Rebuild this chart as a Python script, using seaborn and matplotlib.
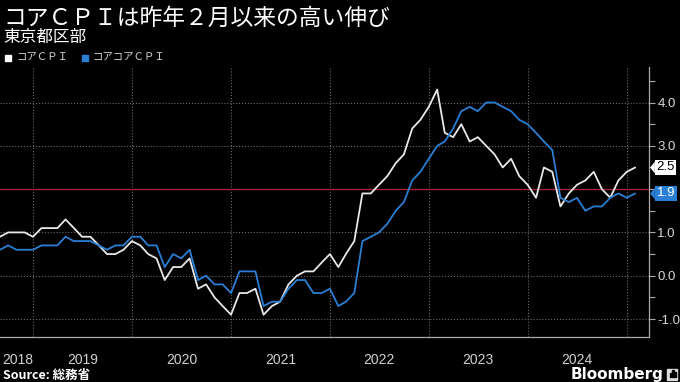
import matplotlib
matplotlib.use("Agg")
import matplotlib.pyplot as plt
import matplotlib.dates as mdates
import matplotlib.transforms as mtransforms
from matplotlib.patches import Rectangle
from matplotlib.ticker import MultipleLocator
import pandas as pd
import seaborn as sns

# Tokyo CPI, y/y %, monthly from Aug 2018 to Jan 2025
first_month = "2018-08-31"
series_names = ["コアＣＰＩ", "コアコアＣＰＩ"]
core_cpi = [0.9, 1.0, 1.0, 1.0, 0.9, 1.1, 1.1, 1.1, 1.3, 1.1, 0.9, 0.9,
            0.7, 0.5, 0.5, 0.6, 0.8, 0.7, 0.5, 0.4, -0.1, 0.2, 0.2, 0.4,
            -0.3, -0.2, -0.5, -0.7, -0.9, -0.4, -0.4, -0.3, -0.9, -0.7, -0.6, -0.2,
            0.0, 0.1, 0.1, 0.3, 0.5, 0.2, 0.5, 0.8, 1.9, 1.9, 2.1, 2.3,
            2.6, 2.8, 3.4, 3.6, 3.9, 4.3, 3.3, 3.2, 3.5, 3.1, 3.2, 3.0,
            2.8, 2.5, 2.7, 2.3, 2.1, 1.8, 2.5, 2.4, 1.6, 1.9, 2.1, 2.2,
            2.4, 2.0, 1.8, 2.2, 2.4, 2.5]
core_core_cpi = [0.6, 0.7, 0.6, 0.6, 0.6, 0.7, 0.7, 0.7, 0.9, 0.8, 0.8, 0.8,
                 0.7, 0.6, 0.7, 0.7, 0.9, 0.9, 0.7, 0.7, 0.2, 0.5, 0.4, 0.6,
                 -0.1, 0.0, -0.2, -0.2, -0.4, 0.1, 0.1, 0.1, -0.7, -0.6, -0.6, -0.3,
                 -0.1, -0.1, -0.4, -0.4, -0.3, -0.7, -0.6, -0.4, 0.8, 0.9, 1.0, 1.2,
                 1.5, 1.7, 2.2, 2.4, 2.7, 3.0, 3.1, 3.4, 3.8, 3.9, 3.8, 4.0,
                 4.0, 3.9, 3.8, 3.6, 3.5, 3.3, 3.1, 2.9, 1.8, 1.7, 1.8, 1.5,
                 1.6, 1.6, 1.8, 1.9, 1.8, 1.9]
target_rate = 2.0
years = [2018, 2019, 2020, 2021, 2022, 2023, 2024]
y_ticks = [-1.0, 0.0, 1.0, 2.0, 3.0, 4.0]

WHITE = "#e8e8e8"
BLUE = "#2a7fd4"
NUM_FONT = ["Liberation Sans", "DejaVu Sans"]

dates = pd.date_range(first_month, periods=len(core_cpi), freq="ME")
df = pd.concat([
    pd.DataFrame({"date": dates, "value": core_cpi, "series": series_names[0]}),
    pd.DataFrame({"date": dates, "value": core_core_cpi, "series": series_names[1]}),
])

sns.set_style("dark", {"axes.facecolor": "black", "figure.facecolor": "black"})
plt.rcParams["font.family"] = ["Noto Sans CJK JP", "DejaVu Sans"]

fig = plt.figure(figsize=(6.8, 3.82), dpi=100, facecolor="black")
ax = fig.add_axes([0, 45 / 382, 649 / 680, 270 / 382])
ax.set_facecolor("black")

sns.lineplot(data=df, x="date", y="value", hue="series", hue_order=series_names,
             palette=[WHITE, BLUE], linewidth=1.3, legend=False, ax=ax, zorder=4)

# boj target line
ax.axhline(target_rate, color="#a3223a", linewidth=1.0, zorder=3)

ax.set_xlim(pd.Timestamp("2018-08-31"), pd.Timestamp("2025-03-23"))
ax.set_ylim(-1.415, 4.82)
ax.set_xlabel("")
ax.set_ylabel("")

# x axis: year separators + quarter ticks
ax.xaxis.set_major_locator(mdates.YearLocator())
ax.xaxis.set_minor_locator(mdates.MonthLocator(bymonth=[4, 7, 10]))
ax.xaxis.set_major_formatter(plt.NullFormatter())
ax.tick_params(axis="x", which="major", direction="out", length=20, width=0.8, color="#8a8a8a")
ax.tick_params(axis="x", which="minor", direction="in", length=3, width=0.8, color="#8a8a8a")

# y axis on the right (2.0 sits behind the value tags, so no label there)
ax.yaxis.tick_right()
ax.set_yticks(y_ticks)
ax.set_yticklabels(["" if v == target_rate else f"{v:.1f}" for v in y_ticks],
                   family=NUM_FONT)
ax.yaxis.set_minor_locator(MultipleLocator(0.5))
ax.tick_params(axis="y", which="both", direction="out", length=4, width=0.8,
               color="#aaaaaa", labelcolor="#d8d8d8", labelsize=9.5, pad=2)

ax.grid(True, which="major", color="#6a6a6a", linestyle=":", linewidth=0.8)
for side in ["left", "top"]:
    ax.spines[side].set_visible(False)
for side in ["right", "bottom"]:
    ax.spines[side].set_visible(True)
    ax.spines[side].set_color("#aaaaaa")
    ax.spines[side].set_linewidth(0.9)

# year labels under the axis
trans = mtransforms.blended_transform_factory(ax.transData, ax.transAxes)
for yr in years:
    if yr == years[0]:
        # partial year at the left edge, keep it inside the figure
        ax.text(0.003, -0.085, str(yr), transform=ax.transAxes, ha="left", va="center",
                color="#d0d0d0", fontsize=10, family=NUM_FONT)
        continue
    ax.text(pd.Timestamp(f"{yr}-07-01"), -0.085, str(yr), transform=trans,
            ha="center", va="center", color="#d0d0d0", fontsize=10, family=NUM_FONT)

# last value tags
tag_trans = mtransforms.blended_transform_factory(ax.transAxes, ax.transData)
notch = [(-0.4, 0), (0.4, 1), (0.4, -1)]
for vals, fc, tc in [(core_cpi, "white", "black"), (core_core_cpi, BLUE, "white")]:
    last = vals[-1]
    ax.plot([1.0048], [last], marker=notch, ms=8.5, color=fc, mew=0,
            transform=tag_trans, clip_on=False, zorder=6)
    ax.text(1.0115, last, f"{last:.1f}", transform=tag_trans, ha="left", va="center",
            color=tc, fontsize=9.5, family=NUM_FONT, zorder=7,
            bbox=dict(boxstyle="square,pad=0.12", fc=fc, ec="none"))

# titles and legend
fig.text(3 / 680, 1 - 18 / 382, "コアＣＰＩは昨年２月以来の高い伸び", color="white",
         fontsize=16.4, va="center", ha="left")
fig.text(3 / 680, 1 - 37 / 382, "東京都区部", color="white", fontsize=12,
         va="center", ha="left")
fig.add_artist(Rectangle((5 / 680, 1 - 61 / 382), 6 / 680, 6 / 382,
                         transform=fig.transFigure, color="white"))
fig.text(16 / 680, 1 - 57.5 / 382, series_names[0], color="#d8d8d8", fontsize=7.5,
         va="center", ha="left")
fig.add_artist(Rectangle((82 / 680, 1 - 61 / 382), 6 / 680, 6 / 382,
                         transform=fig.transFigure, color=BLUE))
fig.text(92 / 680, 1 - 57.5 / 382, series_names[1], color="#d8d8d8", fontsize=7.5,
         va="center", ha="left")

# footer
fig.text(3 / 680, 1 - 375 / 382, "Source: 総務省", color="white", fontsize=9,
         fontweight="bold", va="center", ha="left")
fig.text(663 / 680, 1 - 374 / 382, "Bloomberg", color="white", fontsize=11,
         fontweight="bold", va="center", ha="right", family="DejaVu Sans")
fig.add_artist(Rectangle((667 / 680, 1 - 380 / 382), 10 / 680, 11 / 382,
                         transform=fig.transFigure, color="#dddddd"))
for bx, bh in [(669.5, 4), (672, 7), (674.5, 5)]:
    fig.add_artist(Rectangle((bx / 680, 1 - 377 / 382), 1.5 / 680, bh / 382,
                             transform=fig.transFigure, color="black"))

fig.savefig("out.png", dpi=100, facecolor="black")
